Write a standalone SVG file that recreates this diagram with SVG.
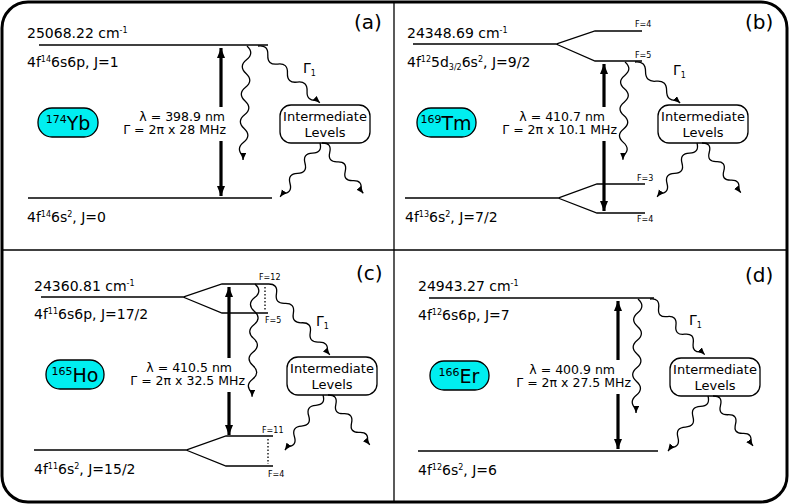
<svg xmlns="http://www.w3.org/2000/svg" width="789" height="504" viewBox="0 0 789 504">
<defs>
<marker id="ah" markerUnits="userSpaceOnUse" markerWidth="12" markerHeight="10" refX="10" refY="4" orient="auto-start-reverse"><path d="M0 0 L10 4 L0 8 z" fill="#000"/></marker>
<marker id="wh" markerUnits="userSpaceOnUse" markerWidth="9" markerHeight="8" refX="7" refY="3" orient="auto"><path d="M0 0 L7 3 L0 6 z" fill="#000"/></marker>
<style>
text{font-family:"DejaVu Sans","Liberation Sans",sans-serif;fill:#000}
.t{font-size:14px}
.s{font-size:8px}
.lab{font-size:12.5px;text-anchor:end}
.p{font-size:20px}
.lv{stroke:#000;stroke-width:1.3;fill:none}
.dot{stroke:#000;stroke-width:1.3;stroke-dasharray:1.5 2;fill:none}
.big{stroke:#000;stroke-width:3.2;marker-start:url(#ah);marker-end:url(#ah)}
.w{stroke:#000;stroke-width:1.3;fill:none;marker-end:url(#wh)}
.pill{fill:#00eef0;stroke:#000;stroke-width:1.3}
.box{fill:#fff;stroke:#000;stroke-width:1.3}
.bt{font-size:13px;text-anchor:middle}
</style>
</defs>
<rect x="2" y="2" width="785" height="500" rx="26" fill="#fff" stroke="#000" stroke-width="3"/>
<line x1="394" y1="2" x2="394" y2="502" stroke="#000" stroke-width="1.3"/>
<line x1="2" y1="250" x2="787" y2="250" stroke="#000" stroke-width="1.3"/>

<g id="panel-a">
<text x="354" y="29" class="p">(a)</text>
<line class="lv" x1="39" y1="45" x2="268" y2="45"/>
<line class="lv" x1="28" y1="198" x2="272" y2="198"/>
<text x="27" y="38" class="t">25068.22 cm<tspan class="s" dy="-5">-1</tspan></text>
<text x="27" y="67" class="t">4f<tspan class="s" dy="-5">14</tspan><tspan dy="5">6s6p, J=1</tspan></text>
<text x="27" y="222" class="t">4f<tspan class="s" dy="-5">14</tspan><tspan dy="5">6s</tspan><tspan class="s" dy="-5">2</tspan><tspan dy="5">, J=0</tspan></text>
<line class="big" x1="221" y1="48" x2="221" y2="196"/>
<rect x="214" y="107" width="14" height="34" fill="#fff"/>
<text x="225" y="121" class="lab">λ = 398.9 nm</text>
<text x="226" y="134" class="lab">Γ = 2π x 28 MHz</text>
<text x="303" y="73" class="t">Γ<tspan class="s" dy="3">1</tspan></text>
<g id="yb"><rect class="pill" x="38" y="108" width="60" height="29" rx="14"/><text x="68" y="130" text-anchor="middle" font-size="19"><tspan font-size="11" dy="-7">174</tspan><tspan dy="7">Yb</tspan></text></g>
<g id="int-a"><rect class="box" x="280" y="105" width="90" height="38" rx="11"/><text x="325" y="121" class="bt">Intermediate</text><text x="325" y="137" class="bt">Levels</text></g>
</g>

<g id="panel-b">
<text x="745" y="29" class="p">(b)</text>
<path class="lv" d="M413 44 H556 L595 31 H642 M556 44 L595 61 H642"/>
<path class="lv" d="M405 198 H558 L597 184 H645 M558 198 L597 213 H645"/>
<text x="635" y="27" class="s">F=4</text>
<text x="635" y="58" class="s">F=5</text>
<text x="637" y="181" class="s">F=3</text>
<text x="637" y="222" class="s">F=4</text>
<text x="407" y="38" class="t">24348.69 cm<tspan class="s" dy="-5">-1</tspan></text>
<text x="407" y="67" class="t">4f<tspan class="s" dy="-5">12</tspan><tspan dy="5">5d</tspan><tspan class="s" dy="3">3/2</tspan><tspan dy="-3">6s</tspan><tspan class="s" dy="-5">2</tspan><tspan dy="5">, J=9/2</tspan></text>
<text x="405" y="222" class="t">4f<tspan class="s" dy="-5">13</tspan><tspan dy="5">6s</tspan><tspan class="s" dy="-5">2</tspan><tspan dy="5">, J=7/2</tspan></text>
<line class="big" x1="604" y1="64" x2="604" y2="211"/>
<rect x="597" y="107" width="14" height="34" fill="#fff"/>
<text x="605" y="121" class="lab">λ = 410.7 nm</text>
<text x="617" y="134" class="lab">Γ = 2π x 10.1 MHz</text>
<text x="673" y="75" class="t">Γ<tspan class="s" dy="3">1</tspan></text>
<g id="tm"><rect class="pill" x="417" y="108" width="59" height="29" rx="14"/><text x="446" y="130" text-anchor="middle" font-size="19"><tspan font-size="11" dy="-7">169</tspan><tspan dy="7">Tm</tspan></text></g>
<g id="int-b"><rect class="box" x="658" y="105" width="90" height="38" rx="11"/><text x="703" y="121" class="bt">Intermediate</text><text x="703" y="137" class="bt">Levels</text></g>
</g>

<g id="panel-c">
<text x="356" y="280" class="p">(c)</text>
<path class="lv" d="M41 297 H183 L222 284 H268 M183 297 L222 313 H268"/>
<path class="lv" d="M34 450 H186 L226 436 H273 M186 450 L226 466 H273"/>
<line class="dot" x1="265" y1="287" x2="265" y2="311"/>
<line class="dot" x1="268" y1="439" x2="268" y2="464"/>
<text x="259" y="280" class="s">F=12</text>
<text x="265" y="323" class="s">F=5</text>
<text x="262" y="433" class="s">F=11</text>
<text x="268" y="477" class="s">F=4</text>
<text x="34" y="291" class="t">24360.81 cm<tspan class="s" dy="-5">-1</tspan></text>
<text x="34" y="319" class="t">4f<tspan class="s" dy="-5">11</tspan><tspan dy="5">6s6p, J=17/2</tspan></text>
<text x="34" y="474" class="t">4f<tspan class="s" dy="-5">11</tspan><tspan dy="5">6s</tspan><tspan class="s" dy="-5">2</tspan><tspan dy="5">, J=15/2</tspan></text>
<line class="big" x1="229" y1="287" x2="229" y2="435"/>
<rect x="222" y="358" width="14" height="34" fill="#fff"/>
<text x="232" y="372" class="lab">λ = 410.5 nm</text>
<text x="245" y="385" class="lab">Γ = 2π x 32.5 MHz</text>
<text x="316" y="326" class="t">Γ<tspan class="s" dy="3">1</tspan></text>
<g id="ho"><rect class="pill" x="46" y="360" width="58" height="29" rx="14"/><text x="75" y="382" text-anchor="middle" font-size="19"><tspan font-size="11" dy="-7">165</tspan><tspan dy="7">Ho</tspan></text></g>
<g id="int-c"><rect class="box" x="287" y="357" width="90" height="38" rx="11"/><text x="332" y="373" class="bt">Intermediate</text><text x="332" y="389" class="bt">Levels</text></g>
</g>

<g id="panel-d">
<text x="745" y="282" class="p">(d)</text>
<line class="lv" x1="429" y1="298" x2="654" y2="298"/>
<line class="lv" x1="418" y1="451" x2="658" y2="451"/>
<text x="418" y="291" class="t">24943.27 cm<tspan class="s" dy="-5">-1</tspan></text>
<text x="418" y="320" class="t">4f<tspan class="s" dy="-5">12</tspan><tspan dy="5">6s6p, J=7</tspan></text>
<text x="418" y="475" class="t">4f<tspan class="s" dy="-5">12</tspan><tspan dy="5">6s</tspan><tspan class="s" dy="-5">2</tspan><tspan dy="5">, J=6</tspan></text>
<line class="big" x1="618" y1="301" x2="618" y2="449"/>
<rect x="611" y="360" width="14" height="34" fill="#fff"/>
<text x="615" y="374" class="lab">λ = 400.9 nm</text>
<text x="631" y="387" class="lab">Γ = 2π x 27.5 MHz</text>
<text x="689" y="325" class="t">Γ<tspan class="s" dy="3">1</tspan></text>
<g id="er"><rect class="pill" x="430" y="361" width="59" height="29" rx="14"/><text x="459" y="383" text-anchor="middle" font-size="19"><tspan font-size="11" dy="-7">166</tspan><tspan dy="7">Er</tspan></text></g>
<g id="int-d"><rect class="box" x="670" y="358" width="90" height="38" rx="11"/><text x="715" y="374" class="bt">Intermediate</text><text x="715" y="390" class="bt">Levels</text></g>
</g>

<g id="connectors">
<path class="w" transform="translate(247,46) rotate(92)" d="M0 0 q6.875 -8 13.75 0 t13.75 0 t13.75 0 t13.75 0 t13.75 0 t13.75 0 t13.75 0 t13.75 0 l4 0"/>
<path class="w" transform="translate(258,46) rotate(42.6)" d="M0 0 q6.67 -8 13.33 0 t13.33 0 t13.33 0 t13.33 0 t13.33 0 t13.33 0 l4 0"/>
<path class="w" transform="translate(320,143) rotate(126.5)" d="M0 0 q6.3 -8 12.6 0 t12.6 0 t12.6 0 t12.6 0 t12.6 0 l4 0"/>
<path class="w" transform="translate(322,143) rotate(50.6)" d="M0 0 q6.1 -8 12.2 0 t12.2 0 t12.2 0 t12.2 0 t12.2 0 l4 0"/>

<path class="w" transform="translate(625,62) rotate(91.2)" d="M0 0 q6.7 -8 13.4 0 t13.4 0 t13.4 0 t13.4 0 t13.4 0 t13.4 0 t13.4 0 l4 0"/>
<path class="w" transform="translate(635,62) rotate(42.3)" d="M0 0 q7.1 -8 14.25 0 t14.25 0 t14.25 0 t14.25 0 l4 0"/>
<path class="w" transform="translate(697,143) rotate(126.5)" d="M0 0 q6.3 -8 12.6 0 t12.6 0 t12.6 0 t12.6 0 t12.6 0 l4 0"/>
<path class="w" transform="translate(702,143) rotate(52)" d="M0 0 q5.9 -8 11.8 0 t11.8 0 t11.8 0 t11.8 0 t11.8 0 l4 0"/>

<path class="w" transform="translate(255,284) rotate(91.5)" d="M0 0 q6.8 -8 13.6 0 t13.6 0 t13.6 0 t13.6 0 t13.6 0 t13.6 0 t13.6 0 t13.6 0 l4 0"/>
<path class="w" transform="translate(268,284) rotate(48.9)" d="M0 0 q6.43 -8 12.86 0 t12.86 0 t12.86 0 t12.86 0 t12.86 0 t12.86 0 t12.86 0 l4 0"/>
<path class="w" transform="translate(323,395) rotate(124.6)" d="M0 0 q6.3 -8 12.6 0 t12.6 0 t12.6 0 t12.6 0 t12.6 0 l4 0"/>
<path class="w" transform="translate(328,395) rotate(50)" d="M0 0 q6.1 -8 12.2 0 t12.2 0 t12.2 0 t12.2 0 t12.2 0 l4 0"/>

<path class="w" transform="translate(638,299) rotate(91)" d="M0 0 q6.875 -8 13.75 0 t13.75 0 t13.75 0 t13.75 0 t13.75 0 t13.75 0 t13.75 0 t13.75 0 l4 0"/>
<path class="w" transform="translate(650,299) rotate(45.5)" d="M0 0 q6.17 -8 12.33 0 t12.33 0 t12.33 0 t12.33 0 t12.33 0 t12.33 0 l4 0"/>
<path class="w" transform="translate(708,396) rotate(126)" d="M0 0 q6.4 -8 12.8 0 t12.8 0 t12.8 0 t12.8 0 t12.8 0 l4 0"/>
<path class="w" transform="translate(713,396) rotate(51.3)" d="M0 0 q6 -8 12 0 t12 0 t12 0 t12 0 t12 0 l4 0"/>
</g>
</svg>
